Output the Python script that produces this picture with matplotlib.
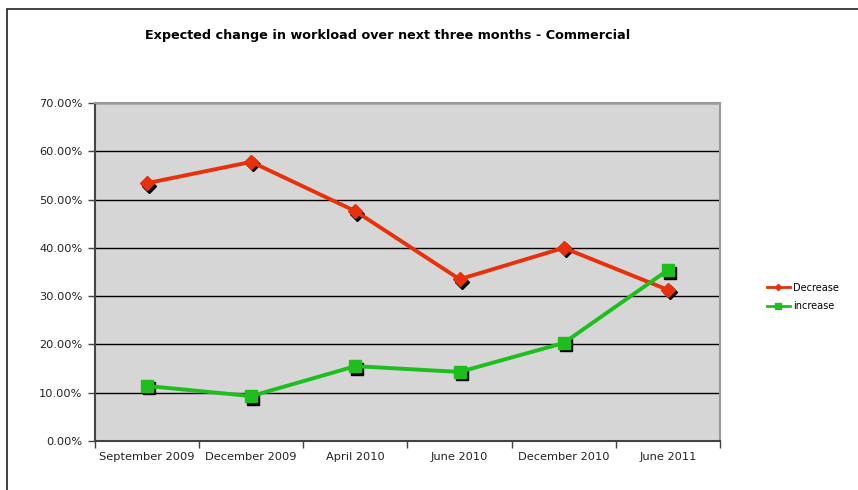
import matplotlib
matplotlib.use("Agg")
import matplotlib.pyplot as plt
import matplotlib.transforms as mtransforms
from matplotlib.patches import Rectangle
from matplotlib.ticker import PercentFormatter, FixedLocator

categories = ["September 2009", "December 2009", "April 2010", "June 2010", "December 2010", "June 2011"]
decrease = [53.4, 57.8, 47.6, 33.5, 40.0, 31.3]
increase = [11.4, 9.3, 15.5, 14.3, 20.3, 35.4]
title = "Expected change in workload over next three months - Commercial"

plt.rcParams['font.family'] = ['DejaVu Sans']

fig = plt.figure(figsize=(8.58, 4.9), dpi=100)
# outer chart frame
fig.patches.append(Rectangle((7 / 858, -0.1), 1.2, 1 - 9 / 490 + 0.1, transform=fig.transFigure,
                             fill=False, edgecolor="#222222", linewidth=1.2))

ax = fig.add_axes([95 / 858, 1 - 441 / 490, 625 / 858, 338 / 490])
ax.set_facecolor("#d6d6d6")

x = list(range(len(categories)))
red = "#e8300a"
green = "#1dbe1d"

shadow = mtransforms.offset_copy(ax.transData, fig=fig, x=2, y=-2.5, units="dots")
ax.plot(x, decrease, linestyle="none", marker="D", markersize=7, color="black", transform=shadow, zorder=3)
ax.plot(x, increase, linestyle="none", marker="s", markersize=9, color="black", transform=shadow, zorder=3)
ax.plot(x, decrease, color=red, linewidth=2.8, marker="D", markersize=7, label="Decrease", zorder=4)
ax.plot(x, increase, color=green, linewidth=2.8, marker="s", markersize=9, label="increase", zorder=4)

ax.set_xlim(-0.5, len(categories) - 0.5)
ax.set_ylim(0, 70)
ax.set_yticks(range(0, 71, 10))
ax.yaxis.set_major_formatter(PercentFormatter(decimals=2))
ax.yaxis.grid(True, color="black", linewidth=1)
ax.set_axisbelow(True)

ax.set_xticks(x)
ax.set_xticklabels(categories)
ax.xaxis.set_minor_locator(FixedLocator([i + 0.5 for i in range(-1, len(categories))]))
ax.tick_params(axis="x", which="major", length=0, pad=8, labelsize=8.2, colors="#222222")
ax.tick_params(axis="x", which="minor", length=5, width=1, color="#444444")
ax.tick_params(axis="y", length=5, width=1, color="#444444", labelsize=8.2, labelcolor="#222222", pad=4)

for side in ["left", "bottom"]:
    ax.spines[side].set_color("#444444")
    ax.spines[side].set_linewidth(1.5)
for side in ["top", "right"]:
    ax.spines[side].set_color("#999999")
    ax.spines[side].set_linewidth(1.5)

fig.text(388 / 858, 1 - 35 / 490, title, ha="center", va="center", fontsize=9.2, fontweight="bold")

handles, labels = ax.get_legend_handles_labels()
leg = fig.legend(handles, labels, loc="center left", bbox_to_anchor=(758 / 858, 1 - 297 / 490),
                 frameon=False, fontsize=7, handlelength=2.4, handletextpad=0.3,
                 labelspacing=0.9, markerscale=0.45)
for line in leg.get_lines():
    line.set_linewidth(2)

fig.savefig("out.png", dpi=100)
